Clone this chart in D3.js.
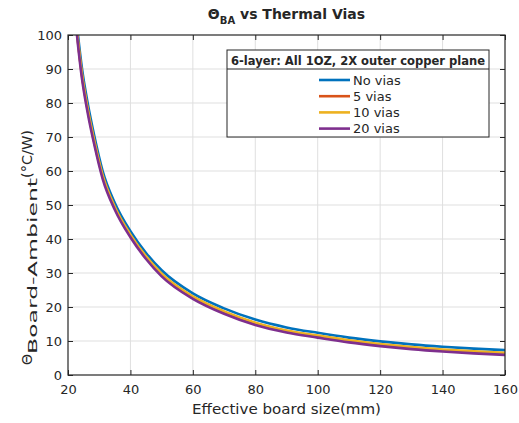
<!DOCTYPE html>
<html>
<head>
<meta charset="utf-8">
<script src="https://cdn.jsdelivr.net/npm/d3@7"></script>
<style>
  body { margin: 0; background: #fff; }
  text { font-family: "DejaVu Sans", sans-serif; fill: #262626; }
</style>
</head>
<body>
<div id="chart"></div>
<script>
// board size (mm)
const boardSize = [22, 23.2, 24.5, 26.3, 28.5, 31.1, 35, 40, 45, 50, 60, 70, 80, 90, 100, 110, 120, 130, 140, 150, 160];
// theta board-ambient (C/W) for each via count
const noVias = [111, 100, 90, 80, 70, 60, 50.6, 42.3, 35.9, 30.8, 24.0, 19.6, 16.3, 14.0, 12.4, 11.0, 9.9, 9.0, 8.3, 7.75, 7.3];
const vias5  = [108.9, 97.9, 87.9, 78.0, 68.2, 58.4, 49.2, 41.0, 34.6, 29.5, 22.9, 18.5, 15.2, 12.9, 11.4, 10.0, 8.9, 8.0, 7.3, 6.75, 6.3];
const vias10 = [109.3, 98.3, 88.3, 78.3, 68.5, 58.7, 49.4, 41.3, 34.9, 29.8, 23.1, 18.7, 15.4, 13.1, 11.6, 10.2, 9.1, 8.2, 7.5, 6.95, 6.5];
const vias20 = [108, 97, 87, 77.1, 67.4, 57.7, 48.6, 40.5, 34.1, 29.0, 22.4, 18.0, 14.7, 12.5, 11.0, 9.6, 8.5, 7.6, 6.9, 6.35, 5.9];
const seriesNames = ["No vias", "5 vias", "10 vias", "20 vias"];
const xTicks = [20, 40, 60, 80, 100, 120, 140, 160];
const yTicks = [0, 10, 20, 30, 40, 50, 60, 70, 80, 90, 100];

const colors = ["#0072BD", "#D95319", "#EDB120", "#7E2F8E"];
const allSeries = [noVias, vias5, vias10, vias20];

const width = 519, height = 423;
const margin = {top: 35, right: 14, bottom: 48, left: 68};
const w = width - margin.left - margin.right;
const h = height - margin.top - margin.bottom;

const svg = d3.select("#chart").append("svg")
    .attr("width", width)
    .attr("height", height);

const x = d3.scaleLinear().domain([20, 160]).range([0, w]);
const y = d3.scaleLinear().domain([0, 100]).range([h, 0]);

const g = svg.append("g").attr("transform", `translate(${margin.left},${margin.top})`);

svg.append("defs").append("clipPath").attr("id", "clip")
    .append("rect").attr("width", w).attr("height", h);

// grid
g.append("g").selectAll("line").data(xTicks.slice(1, -1)).join("line")
    .attr("x1", d => x(d)).attr("x2", d => x(d))
    .attr("y1", 0).attr("y2", h)
    .attr("stroke", "#dfdfdf");
g.append("g").selectAll("line").data(yTicks.slice(1, -1)).join("line")
    .attr("x1", 0).attr("x2", w)
    .attr("y1", d => y(d)).attr("y2", d => y(d))
    .attr("stroke", "#dfdfdf");

// curves
const line = d3.line()
    .x((d, i) => x(boardSize[i]))
    .y(d => y(d))
    .curve(d3.curveMonotoneX);

const plot = g.append("g").attr("clip-path", "url(#clip)");
allSeries.forEach((s, k) => {
    plot.append("path")
        .datum(s)
        .attr("d", line)
        .attr("fill", "none")
        .attr("stroke", colors[k])
        .attr("stroke-width", 2.6);
});

// axes (ticks inside, box all around)
const axisStyle = sel => {
    sel.select(".domain").remove();
    sel.selectAll("line").attr("stroke", "#262626");
    sel.selectAll("text").style("font-size", "13px").attr("fill", "#262626");
};
g.append("g").attr("transform", `translate(0,${h})`)
    .call(d3.axisBottom(x).tickValues(xTicks).tickSizeInner(-5).tickSizeOuter(0).tickPadding(10))
    .call(axisStyle);
g.append("g")
    .call(d3.axisLeft(y).tickValues(yTicks).tickSizeInner(-5).tickSizeOuter(0).tickPadding(6))
    .call(axisStyle);
g.append("g")
    .call(d3.axisTop(x).tickValues(xTicks).tickSizeInner(-5).tickSizeOuter(0).tickFormat(""))
    .call(axisStyle);
g.append("g").attr("transform", `translate(${w},0)`)
    .call(d3.axisRight(y).tickValues(yTicks).tickSizeInner(-5).tickSizeOuter(0).tickFormat(""))
    .call(axisStyle);
g.append("rect").attr("width", w).attr("height", h)
    .attr("fill", "none").attr("stroke", "#262626").attr("stroke-width", 1.2);

// title
const title = svg.append("text")
    .attr("x", margin.left + w / 2).attr("y", 19)
    .attr("text-anchor", "middle")
    .style("font-size", "14px").style("font-weight", "bold");
title.append("tspan").text("Θ");
title.append("tspan").attr("dy", 5).style("font-size", "10px").text("BA");
title.append("tspan").attr("dy", -5).text(" vs Thermal Vias");

// x label
svg.append("text")
    .attr("x", margin.left + w / 2).attr("y", 414)
    .attr("text-anchor", "middle")
    .style("font-size", "14px")
    .attr("textLength", 189).attr("lengthAdjust", "spacingAndGlyphs")
    .text("Effective board size(mm)");

// y label
const yl = svg.append("text")
    .attr("transform", "translate(32,365) rotate(-90)")
    .attr("text-anchor", "start")
    .style("font-size", "14px");
yl.append("tspan").text("Θ");
yl.append("tspan").attr("dy", 5).style("font-size", "13px")
    .attr("textLength", 176).attr("lengthAdjust", "spacingAndGlyphs")
    .text("Board-Ambient");
yl.append("tspan").attr("dy", -5)
    .attr("textLength", 48).attr("lengthAdjust", "spacingAndGlyphs")
    .text("(°C/W)");

// legend
const lg = svg.append("g").attr("transform", "translate(227,50)");
const lw = 262, lh = 87;
lg.append("rect").attr("width", lw).attr("height", lh)
    .attr("fill", "#fff").attr("stroke", "#262626").attr("stroke-width", 1);
lg.append("line").attr("x1", 0).attr("x2", lw).attr("y1", 19).attr("y2", 19)
    .attr("stroke", "#262626");
lg.append("text")
    .attr("x", lw / 2).attr("y", 14.5)
    .attr("text-anchor", "middle")
    .style("font-size", "12px").style("font-weight", "bold")
    .attr("textLength", 254).attr("lengthAdjust", "spacingAndGlyphs")
    .text("6-layer: All 1OZ, 2X outer copper plane");
const rows = lg.selectAll("g.row").data(seriesNames).join("g")
    .attr("transform", (d, i) => `translate(0,${30 + i * 16.2})`);
rows.append("line").attr("x1", 92).attr("x2", 123).attr("y1", 0).attr("y2", 0)
    .attr("stroke", (d, i) => colors[i]).attr("stroke-width", 2.6);
rows.append("text").attr("x", 126).attr("y", 4.5)
    .style("font-size", "13px")
    .text(d => d);
</script>
</body>
</html>
